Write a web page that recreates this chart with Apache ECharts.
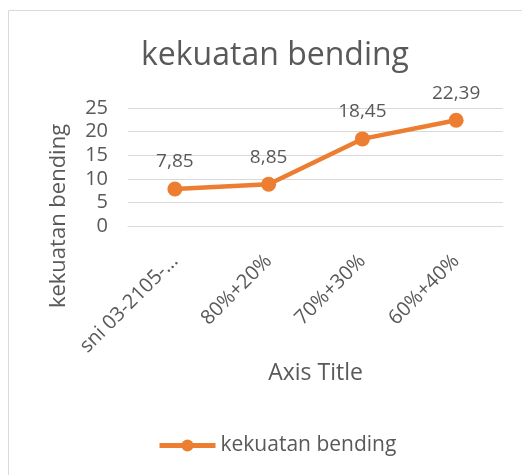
<!DOCTYPE html>
<html>
<head>
<meta charset="utf-8">
<script src="https://cdn.jsdelivr.net/npm/echarts@6/dist/echarts.min.js"></script>
<style>
html, body { margin: 0; padding: 0; background: #fff; }
#chart { width: 522px; height: 475px; }
</style>
</head>
<body>
<div id="chart"></div>
<script>
// data
var categories = ['sni 03-2105-2006', '80%+20%', '70%+30%', '60%+40%'];
var bendingValues = [7.85, 8.85, 18.45, 22.39];
var yTicks = [0, 5, 10, 15, 20, 25];

var seriesName = 'kekuatan bending';
var textColor = '#595959';
var lineColor = '#ED7D31';
var fontName = 'Open Sans';

var myChart = echarts.init(document.getElementById('chart'));

var option = {
    backgroundColor: '#fff',
    textStyle: { fontFamily: fontName },
    animation: false,
    graphic: [{
        type: 'rect',
        shape: { x: 8.5, y: 10.5, width: 600, height: 600 },
        style: { fill: 'none', stroke: '#d9d9d9', lineWidth: 1 }
    }],
    title: {
        text: 'kekuatan bending',
        left: 270,
        top: 35,
        textAlign: 'center',
        textStyle: { fontFamily: fontName, fontSize: 32, fontWeight: 'normal', color: textColor }
    },
    grid: { left: 128, right: 19, top: 108, bottom: 249 },
    legend: {
        data: [seriesName],
        left: 152,
        top: 430,
        itemWidth: 56,
        itemHeight: 15,
        lineStyle: { width: 5 },
        textStyle: { fontFamily: fontName, fontSize: 21, color: textColor }
    },
    xAxis: {
        type: 'category',
        data: categories,
        name: 'Axis Title',
        nameLocation: 'middle',
        nameGap: 136,
        nameTextStyle: { fontFamily: fontName, fontSize: 23, color: textColor },
        axisLine: { lineStyle: { color: '#d9d9d9', width: 1 } },
        axisTick: { show: false },
        axisLabel: {
            rotate: 45,
            margin: 32,
            fontSize: 20,
            color: textColor,
            // excel cut the long label short
            formatter: function (v) { return v.length > 12 ? v.substr(0, 12) + '...' : v; }
        }
    },
    yAxis: {
        type: 'value',
        min: yTicks[0],
        max: yTicks[yTicks.length - 1],
        interval: yTicks[1] - yTicks[0],
        name: 'kekuatan bending',
        nameLocation: 'middle',
        nameGap: 58,
        nameTextStyle: { fontFamily: fontName, fontSize: 22, color: textColor, padding: [0, 98, 0, 0] },
        axisLine: { show: false },
        axisTick: { show: false },
        axisLabel: { margin: 20, fontSize: 20, color: textColor },
        splitLine: { lineStyle: { color: '#d9d9d9', width: 1 } }
    },
    series: [{
        name: seriesName,
        type: 'line',
        data: bendingValues,
        symbol: 'circle',
        symbolSize: 15,
        lineStyle: { color: lineColor, width: 4.5 },
        itemStyle: { color: lineColor },
        label: {
            show: true,
            position: 'top',
            distance: 10,
            fontSize: 19,
            color: textColor,
            formatter: function (p) { return p.value.toFixed(2).replace('.', ','); }
        }
    }]
};

myChart.setOption(option);
</script>
</body>
</html>
